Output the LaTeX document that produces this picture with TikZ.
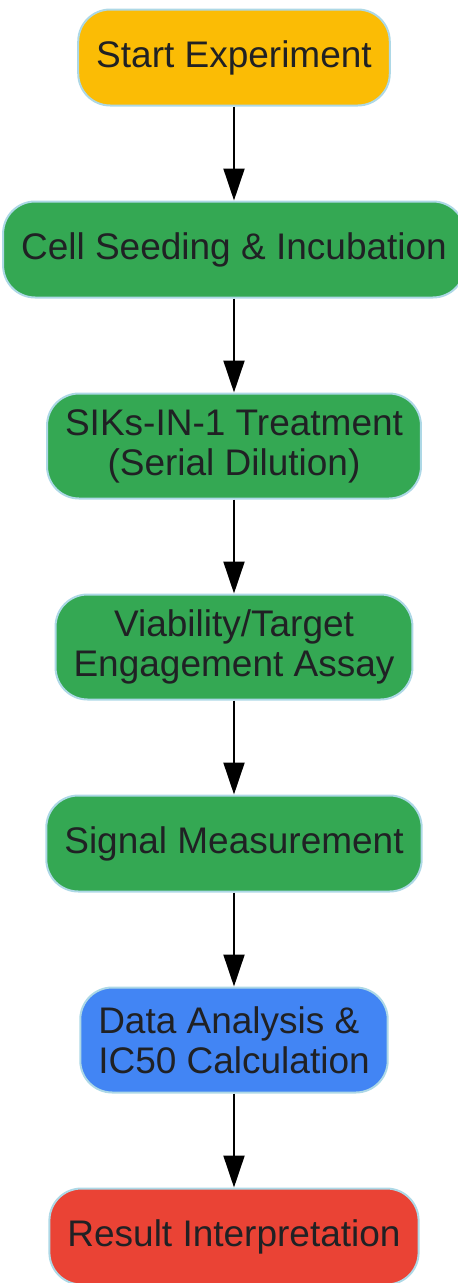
\documentclass[tikz,border=0pt]{standalone}
\usepackage{fontspec}
\setmainfont{Liberation Sans}
\usepackage{xcolor}
\usetikzlibrary{positioning,arrows.meta}
\definecolor{startyellow}{HTML}{FBBC05}
\definecolor{stepgreen}{HTML}{34A853}
\definecolor{calcblue}{HTML}{4285F4}
\definecolor{resultred}{HTML}{EA4335}
\definecolor{edgeblue}{HTML}{ADD8E6}
\definecolor{inkgrey}{HTML}{202124}
\tikzset{
    flow-box/.style = {draw=edgeblue, line width=2pt, rectangle, rounded corners=32pt, text=inkgrey, align=center, inner xsep=18pt, minimum height=96pt, font=\fontsize{37}{40}\selectfont},
    flow-box-tall/.style = {flow-box, minimum height=105pt},
    flow-arrow/.style = {draw=black, line width=2pt, -{Triangle[length=32pt,width=21pt]}},
}
\begin{document}
\begin{tikzpicture}
\useasboundingbox (0pt,0pt) rectangle (458pt,-1283pt);
\node [flow-box, fill=startyellow] (start) at (234pt,-57.5pt) {Start Experiment};
\node [flow-box, fill=stepgreen, below=94pt of start] (seeding) {Cell Seeding \& Incubation};
\node [flow-box-tall, fill=stepgreen, below=94pt of seeding] (treatment) {SIKs-IN-1 Treatment\\(Serial Dilution)};
\node [flow-box-tall, fill=stepgreen, below=94pt of treatment] (assay) {Viability/Target\\Engagement Assay};
\node [flow-box, fill=stepgreen, below=94pt of assay] (signal) {Signal Measurement};
\node [flow-box-tall, fill=calcblue, align=left, below=94pt of signal] (analysis) {Data Analysis \&\\IC50 Calculation};
\node [flow-box, fill=resultred, below=94pt of analysis] (result) {Result Interpretation};

\draw [flow-arrow] (start) -- (seeding);
\draw [flow-arrow] (seeding) -- (treatment);
\draw [flow-arrow] (treatment) -- (assay);
\draw [flow-arrow] (assay) -- (signal);
\draw [flow-arrow] (signal) -- (analysis);
\draw [flow-arrow] (analysis) -- (result);
\end{tikzpicture}
\end{document}
